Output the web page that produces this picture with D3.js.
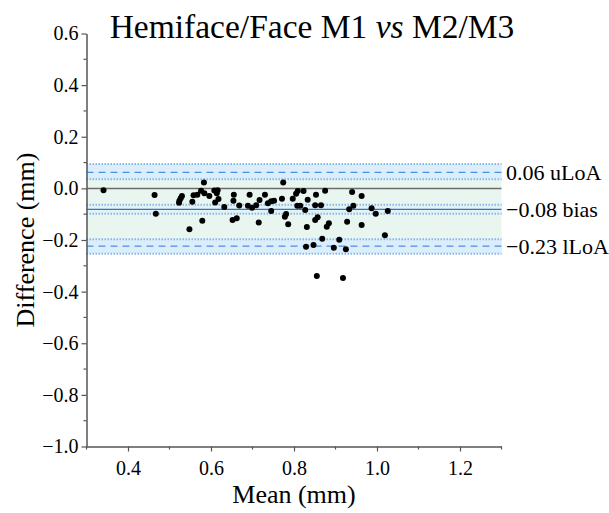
<!DOCTYPE html>
<html>
<head>
<meta charset="utf-8">
<script src="https://cdn.jsdelivr.net/npm/d3@7"></script>
<style>
  body { margin: 0; background: #fff; }
  svg { display: block; }
  svg text { font-family: 'Liberation Serif', 'Times New Roman', serif; fill: #000; }
</style>
</head>
<body>
<svg id="chart" width="609" height="513"></svg>
<script>
// mean of the two methods (mm)
const meanVals = [0.341, 0.464, 0.467, 0.530, 0.527, 0.524, 0.523, 0.548, 0.555, 0.558,
  0.567, 0.576, 0.583, 0.579, 0.596, 0.608, 0.616, 0.584, 0.614, 0.610,
  0.618, 0.632, 0.655, 0.654, 0.668, 0.652, 0.662, 0.693, 0.689, 0.699,
  0.709, 0.717, 0.715, 0.730, 0.737, 0.745, 0.752, 0.745, 0.771, 0.774,
  0.781, 0.778, 0.786, 0.797, 0.805, 0.809, 0.823, 0.808, 0.815, 0.827,
  0.833, 0.831, 0.829, 0.853, 0.875, 0.851, 0.865, 0.851, 0.857, 0.879,
  0.884, 0.868, 0.847, 0.896, 0.909, 0.925, 0.928, 0.940, 0.963, 0.943,
  0.933, 0.963, 0.987, 0.997, 1.019, 1.026, 0.855, 0.918];
// difference between the two methods (mm)
const diffVals = [-0.007, -0.026, -0.098, -0.030, -0.038, -0.048, -0.056, -0.158, -0.052, -0.027,
  -0.025, -0.009, 0.023, -0.125, -0.030, -0.008, -0.007, -0.019, -0.019, -0.055,
  -0.041, -0.072, -0.025, -0.048, -0.066, -0.123, -0.116, -0.025, -0.067, -0.075,
  -0.065, -0.045, -0.132, -0.025, -0.058, -0.050, -0.048, -0.088, -0.040, 0.023,
  -0.099, -0.110, -0.139, -0.040, -0.021, -0.010, -0.010, -0.067, -0.067, -0.084,
  -0.044, -0.150, -0.226, -0.025, -0.009, -0.065, -0.065, -0.123, -0.112, -0.149,
  -0.135, -0.195, -0.219, -0.230, -0.199, -0.236, -0.129, -0.014, -0.030, -0.067,
  -0.081, -0.142, -0.077, -0.098, -0.182, -0.088, -0.339, -0.347];

// Bland-Altman lines: value, CI low, CI high
const limitNames = ['uLoA', 'bias', 'lLoA'];
const limitVals = [0.062, -0.081, -0.224];
const limitLow = [0.035, -0.098, -0.253];
const limitHigh = [0.094, -0.063, -0.197];
const limitLabels = ['0.06 uLoA', '\u22120.08 bias', '\u22120.23 lLoA'];

const xTicks = [0.4, 0.6, 0.8, 1.0, 1.2];
const yTicks = [0.6, 0.4, 0.2, 0.0, -0.2, -0.4, -0.6, -0.8, -1.0];

const svg = d3.select('#chart');

const x = d3.scaleLinear().domain([0.3, 1.3]).range([86.5, 501.5]);
const y = d3.scaleLinear().domain([-1.0, 0.6]).range([446.5, 33.5]);

const fmt = v => d3.format('.1f')(v).replace('-', '\u2212');

// shaded region between limits
svg.append('rect')
  .attr('x', x(0.3)).attr('width', x(1.3) - x(0.3))
  .attr('y', y(limitHigh[0])).attr('height', y(limitLow[2]) - y(limitHigh[0]))
  .attr('fill', '#e9f6f0');

// CI bands
svg.append('g').selectAll('rect')
  .data(limitNames)
  .join('rect')
  .attr('x', x(0.3)).attr('width', x(1.3) - x(0.3))
  .attr('y', (d, i) => y(limitHigh[i]))
  .attr('height', (d, i) => y(limitLow[i]) - y(limitHigh[i]))
  .attr('fill', (d, i) => (i === 1 ? '#e3f2f3' : '#dbeefa'));

// dotted CI bounds
const ciBounds = limitLow.concat(limitHigh);
svg.append('g').selectAll('line')
  .data(ciBounds)
  .join('line')
  .attr('x1', x(0.3)).attr('x2', x(1.3))
  .attr('y1', d => y(d)).attr('y2', d => y(d))
  .attr('stroke', '#86b8ee')
  .attr('stroke-width', 2)
  .attr('stroke-dasharray', '1.5,1.5');

// zero line
svg.append('line')
  .attr('x1', x(0.3)).attr('x2', x(1.3))
  .attr('y1', y(0)).attr('y2', y(0))
  .attr('stroke', '#6b6b6b')
  .attr('stroke-width', 1.5);

// bias & LoA lines
svg.append('g').selectAll('line')
  .data(limitVals)
  .join('line')
  .attr('x1', x(0.3)).attr('x2', x(1.3))
  .attr('y1', d => y(d)).attr('y2', d => y(d))
  .attr('stroke', (d, i) => (i === 1 ? '#2f74d0' : '#4a8fe6'))
  .attr('stroke-width', 1.3)
  .attr('stroke-dasharray', (d, i) => (i === 1 ? null : '7,5'));

// points
svg.append('g').selectAll('circle')
  .data(meanVals)
  .join('circle')
  .attr('cx', d => x(d))
  .attr('cy', (d, i) => y(diffVals[i]))
  .attr('r', 3)
  .attr('fill', '#000');

// axes
const xAxis = svg.append('g').attr('transform', `translate(0,${y(-1.0)})`);
xAxis.call(d3.axisBottom(x).tickValues(xTicks).tickFormat(fmt).tickSize(5).tickSizeOuter(0));
xAxis.append('g').attr('class', 'minor').selectAll('line')
  .data(d3.range(0.3, 1.31, 0.2))
  .join('line')
  .attr('x1', d => x(d)).attr('x2', d => x(d))
  .attr('y1', 0).attr('y2', 3);

const yAxis = svg.append('g').attr('transform', `translate(${x(0.3)},0)`);
yAxis.call(d3.axisLeft(y).tickValues(yTicks).tickFormat(fmt).tickSize(5).tickSizeOuter(0));
yAxis.append('g').attr('class', 'minor').selectAll('line')
  .data(d3.range(-0.9, 0.6, 0.2))
  .join('line')
  .attr('y1', d => y(d)).attr('y2', d => y(d))
  .attr('x1', 0).attr('x2', -3);

svg.selectAll('.domain').attr('stroke', '#555').attr('stroke-width', 1.5);
svg.selectAll('.tick line, .minor line').attr('stroke', '#555').attr('stroke-width', 1.2);
[xAxis, yAxis].forEach(a => a.attr('font-family', null).attr('font-size', null));
svg.selectAll('.tick text')
  .style('font-family', "'Liberation Serif', serif")
  .style('font-size', '20px')
  .style('fill', '#000');
xAxis.selectAll('.tick text').attr('dy', '1.0em');
yAxis.selectAll('.tick text').attr('x', -8);

// limit labels
svg.append('g').selectAll('text')
  .data(limitLabels)
  .join('text')
  .attr('x', 506)
  .attr('y', (d, i) => y(limitVals[i]))
  .attr('dy', '0.35em')
  .attr('font-size', 22)
  .text(d => d);

// axis titles
svg.append('text')
  .attr('x', (x(0.3) + x(1.3)) / 2)
  .attr('y', 503)
  .attr('text-anchor', 'middle')
  .attr('font-size', 26)
  .text('Mean (mm)');

svg.append('text')
  .attr('transform', `translate(34,${y(-0.2)}) rotate(-90)`)
  .attr('text-anchor', 'middle')
  .attr('font-size', 26)
  .text('Difference (mm)');

// title
const title = svg.append('text')
  .attr('x', 312)
  .attr('y', 38)
  .attr('text-anchor', 'middle')
  .attr('font-size', 33.5);
title.append('tspan').text('Hemiface/Face M1 ');
title.append('tspan').attr('font-style', 'italic').text('vs');
title.append('tspan').text(' M2/M3');
</script>
</body>
</html>
